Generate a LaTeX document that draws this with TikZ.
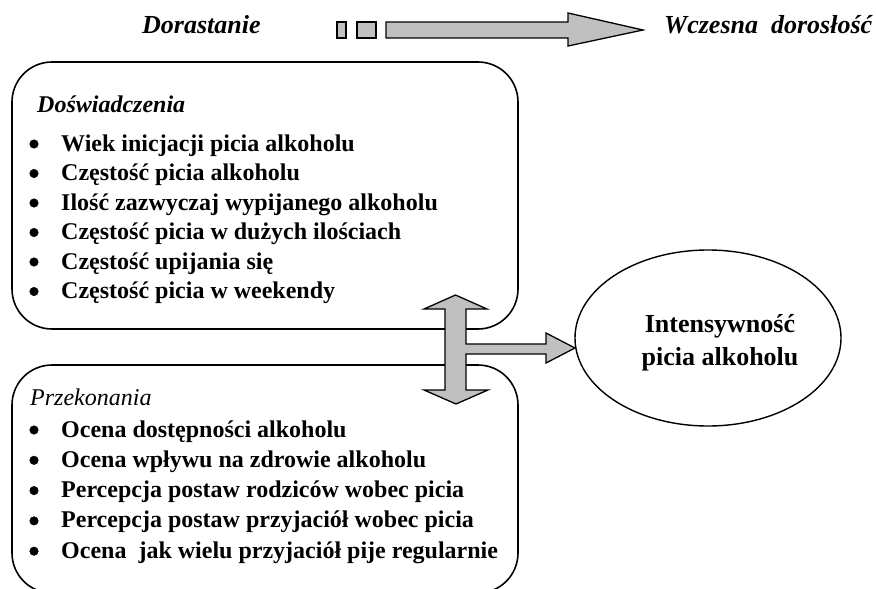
\documentclass[tikz,border=0pt]{standalone}
\usepackage{fontspec}
\setmainfont{Liberation Serif}
\usetikzlibrary{shapes.geometric}
\definecolor{arrowgray}{RGB}{192,192,192}
\begin{document}
\begin{tikzpicture}[x=1pt,y=-1pt,
  box/.style={draw, line width=1.6pt, rounded corners=40pt, inner sep=0pt},
  blockarrow/.style={draw, line width=1.3pt, fill=arrowgray, line join=miter},
  item/.style={anchor=base west, inner sep=0pt, font=\fontsize{24}{28}\selectfont\bfseries},
  bul/.style={circle, draw=black, fill=black, line width=0.5pt, inner sep=0pt, minimum size=8.5pt},
  head/.style={anchor=base west, inner sep=0pt, font=\fontsize{26}{30}\selectfont\bfseries\itshape},
  ovaltext/.style={anchor=base, inner sep=0pt, font=\fontsize{26}{30}\selectfont\bfseries},
]
\useasboundingbox (0,0) rectangle (876,589);

% top time arrow
\node[head] (dor) at (142,33) {Dorastanie};
\node[head] (wd) at (664,33) {Wczesna\ \ dorosłość};
\draw[blockarrow] (337,22) rectangle (346,38);
\draw[blockarrow] (357,22) rectangle (376,38);
\draw[blockarrow] (386,22) -- (568,22) -- (568,13) -- (643,30) -- (568,46) -- (568,38) -- (386,38) -- cycle;

% boxes
\node[box, minimum width=506pt, minimum height=267pt] (exp) at (265,195.5) {};
\node[box, minimum width=506pt, minimum height=228pt] (bel) at (265,479) {};

% ellipse
\node[draw, ellipse, line width=1.4pt, minimum width=266pt, minimum height=176pt, inner sep=0pt] (out) at (708,338) {};
\node[ovaltext] (int1) at (720,332) {Intensywność};
\node[ovaltext] (int2) at (720,365) {picia alkoholu};

% top box content
\node[anchor=base west, inner sep=0pt, font=\fontsize{24}{28}\selectfont\bfseries\itshape] (dtitle) at (37,112) {Doświadczenia};
\foreach \t [count=\i] in {Wiek inicjacji picia alkoholu, Częstość picia alkoholu, Ilość zazwyczaj wypijanego alkoholu, Częstość picia w dużych ilościach, Częstość upijania się, Częstość picia w weekendy}{
  \node[bul] (db\i) at (34,{151+(\i-1)*29.5-7}) {};
  \node[item] (d\i) at (61,{151+(\i-1)*29.5}) {\t};
}

% bottom box content
\node[anchor=base west, inner sep=0pt, font=\fontsize{24}{28}\selectfont\itshape] (ptitle) at (30,405) {Przekonania};
\foreach \t [count=\i] in {Ocena dostępności alkoholu, Ocena wpływu na zdrowie alkoholu, Percepcja postaw rodziców wobec picia, Percepcja postaw przyjaciół wobec picia, Ocena\ \ jak wielu przyjaciół pije regularnie}{
  \node[bul] (pb\i) at (34,{437+(\i-1)*30.3-7}) {};
  \node[item] (p\i) at (61,{437+(\i-1)*30.3}) {\t};
}

% connecting block arrows
\draw[blockarrow] (455.5,295) -- (487,309) -- (466,309) -- (466,344) -- (546,344) -- (546,333) -- (575,348) -- (546,363) -- (546,354) -- (466,354) -- (466,390) -- (488,390) -- (456,404) -- (424,390) -- (445,390) -- (445,309) -- (424,309) -- cycle;
\end{tikzpicture}
\end{document}
